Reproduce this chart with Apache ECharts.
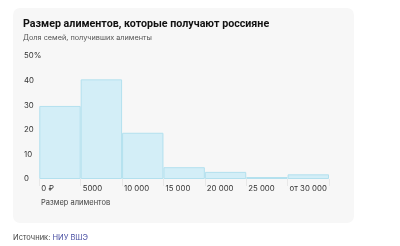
<!DOCTYPE html>
<html>
<head>
<meta charset="utf-8">
<script src="https://cdn.jsdelivr.net/npm/echarts@6/dist/echarts.min.js"></script>
<style>
html,body{margin:0;padding:0;background:#fff;}
#c{width:400px;height:246px;}
</style>
</head>
<body>
<div id="c"></div>
<script>
// Data
const categories = ['0–5000', '5000–10 000', '10 000–15 000', '15 000–20 000', '20 000–25 000', '25 000–30 000', 'от 30 000'];
const shares = [29.7, 40.5, 18.8, 4.8, 2.9, 0.8, 1.9];
const xTickLabels = ['0 ₽', '5000', '10 000', '15 000', '20 000', '25 000', 'от 30 000'];
const titleText = 'Размер алиментов, которые получают россияне';
const subtitleText = 'Доля семей, получивших алименты';
const xAxisName = 'Размер алиментов';
const sourceLabel = 'Источник: ';
const sourceName = 'НИУ ВШЭ';

const FONT = 'Inter, "Noto Sans", sans-serif';
const chart = echarts.init(document.getElementById('c'), null, {renderer: 'canvas'});

const option = {
  backgroundColor: '#ffffff',
  animation: false,
  graphic: [
    {type: 'rect', z: -10, shape: {x: 13, y: 8, width: 341, height: 215, r: 7}, style: {fill: '#f7f7f7'}}
  ],
  title: [
    {text: titleText, left: 23, top: 19, padding: 0, textStyle: {fontFamily: 'Roboto, sans-serif', fontSize: 10.7, fontWeight: 'bold', color: '#111'}},
    {text: subtitleText, left: 23, top: 34, padding: 0, textStyle: {fontFamily: FONT, fontSize: 7.3, fontWeight: 'normal', color: '#555'}},
    {text: xAxisName, left: 41, top: 199, padding: 0, textStyle: {fontFamily: FONT, fontSize: 7.5, fontWeight: 'normal', color: '#444'}},
    {text: '{a|' + sourceLabel + '}{b|' + sourceName + '}', left: 13, top: 234, padding: 0,
      textStyle: {
        fontFamily: FONT, fontSize: 7.5, fontWeight: 'normal', color: '#444',
        rich: {
          a: {fontFamily: FONT, fontSize: 7.5, color: '#444'},
          b: {fontFamily: FONT, fontSize: 7.5, color: '#4a50a3'}
        }
      }
    }
  ],
  grid: {left: 39.3, right: 71, top: 56, bottom: 67},
  xAxis: [
    {type: 'category', data: categories, show: false, boundaryGap: true},
    {type: 'value', min: 0, max: 35000, interval: 5000, position: 'bottom',
      axisLine: {show: false},
      axisTick: {show: true, length: 7, inside: false, lineStyle: {color: '#e8e8e8', width: 1}},
      splitLine: {show: false},
      axisLabel: {
        align: 'left', margin: 6, color: '#333', fontFamily: FONT, fontSize: 7.8,
        padding: [0, 0, 0, 2],
        formatter: function (v) { const i = Math.round(v / 5000); return i < xTickLabels.length ? xTickLabels[i] : ''; }
      }
    }
  ],
  yAxis: {
    type: 'value', min: 0, max: 50, interval: 10,
    axisLine: {show: false}, axisTick: {show: false}, splitLine: {show: false},
    axisLabel: {
      align: 'left', margin: 15.3, color: '#333', fontFamily: FONT, fontSize: 7.8,
      padding: [0, 0, 4, 0],
      formatter: function (v) { return v === 50 ? v + '%' : String(v); }
    }
  },
  series: [{
    type: 'bar', xAxisIndex: 0, data: shares, barCategoryGap: 0, barGap: 0,
    itemStyle: {color: '#d3eef7', borderColor: '#b3e0ee', borderWidth: 1}
  }]
};
chart.setOption(option);
</script>
</body>
</html>
